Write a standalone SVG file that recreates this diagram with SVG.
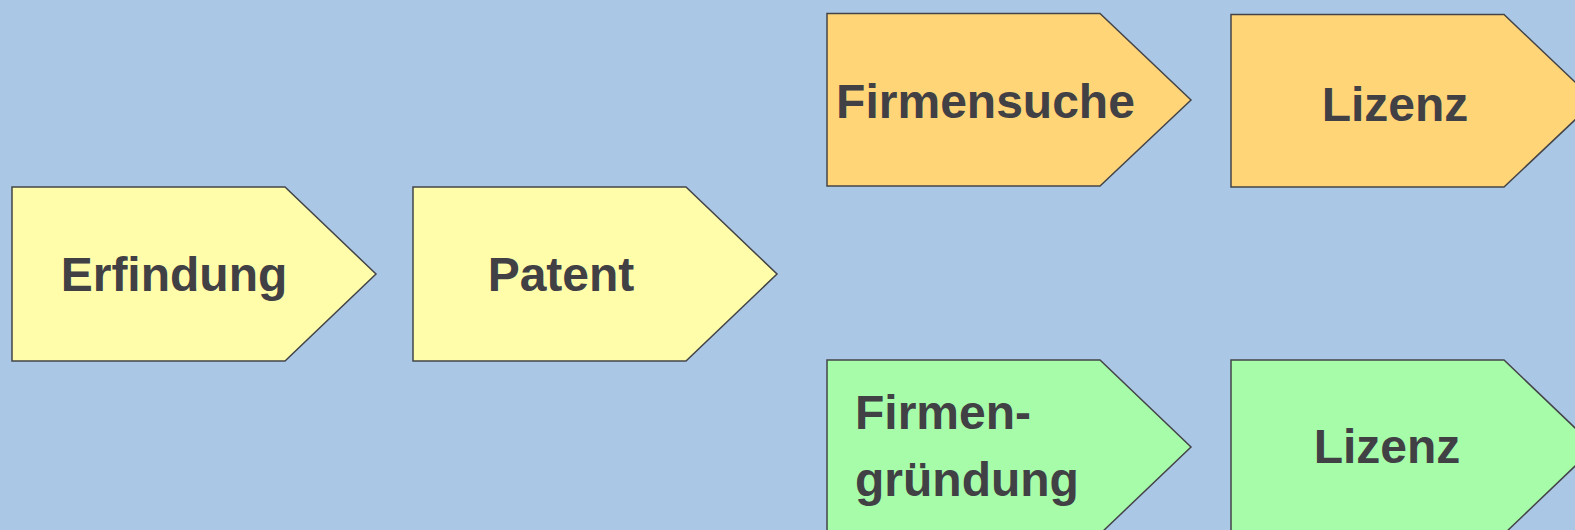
<svg xmlns="http://www.w3.org/2000/svg" width="1575" height="530" viewBox="0 0 1575 530">
<style>
.s{stroke:#444448;stroke-width:1.5;stroke-linejoin:miter}
.y{fill:#FFFDA9}
.o{fill:#FFD578}
.g{fill:#A7FCAA}
text{font-family:"Liberation Sans",Arial,sans-serif;font-weight:bold;font-size:48px;fill:#404045}
</style>
<rect x="0" y="0" width="1575" height="530" fill="#AAC8E5"/>
<g id="connectors"/>
<g id="erfindung">
<polygon class="s y" points="12,187 285,187 376,274 285,361 12,361"/>
<text x="174" y="291" text-anchor="middle">Erfindung</text>
</g>
<g id="patent">
<polygon class="s y" points="413,187 686,187 777,274 686,361 413,361"/>
<text x="561" y="291" text-anchor="middle">Patent</text>
</g>
<g id="firmensuche">
<polygon class="s o" points="827,13.5 1100,13.5 1191,100 1100,186 827,186"/>
<text x="985.5" y="118" text-anchor="middle">Firmensuche</text>
</g>
<g id="lizenz1">
<polygon class="s o" points="1231,14.5 1504,14.5 1595,101 1504,187 1231,187"/>
<text x="1395" y="121" text-anchor="middle">Lizenz</text>
</g>
<g id="firmengruendung">
<polygon class="s g" points="827,360 1100,360 1191,447 1100,534 827,534"/>
<text x="855" y="429">Firmen-</text>
<text x="855" y="496">gründung</text>
</g>
<g id="lizenz2">
<polygon class="s g" points="1231,360 1504,360 1595,447 1504,534 1231,534"/>
<text x="1387" y="463" text-anchor="middle">Lizenz</text>
</g>
</svg>
